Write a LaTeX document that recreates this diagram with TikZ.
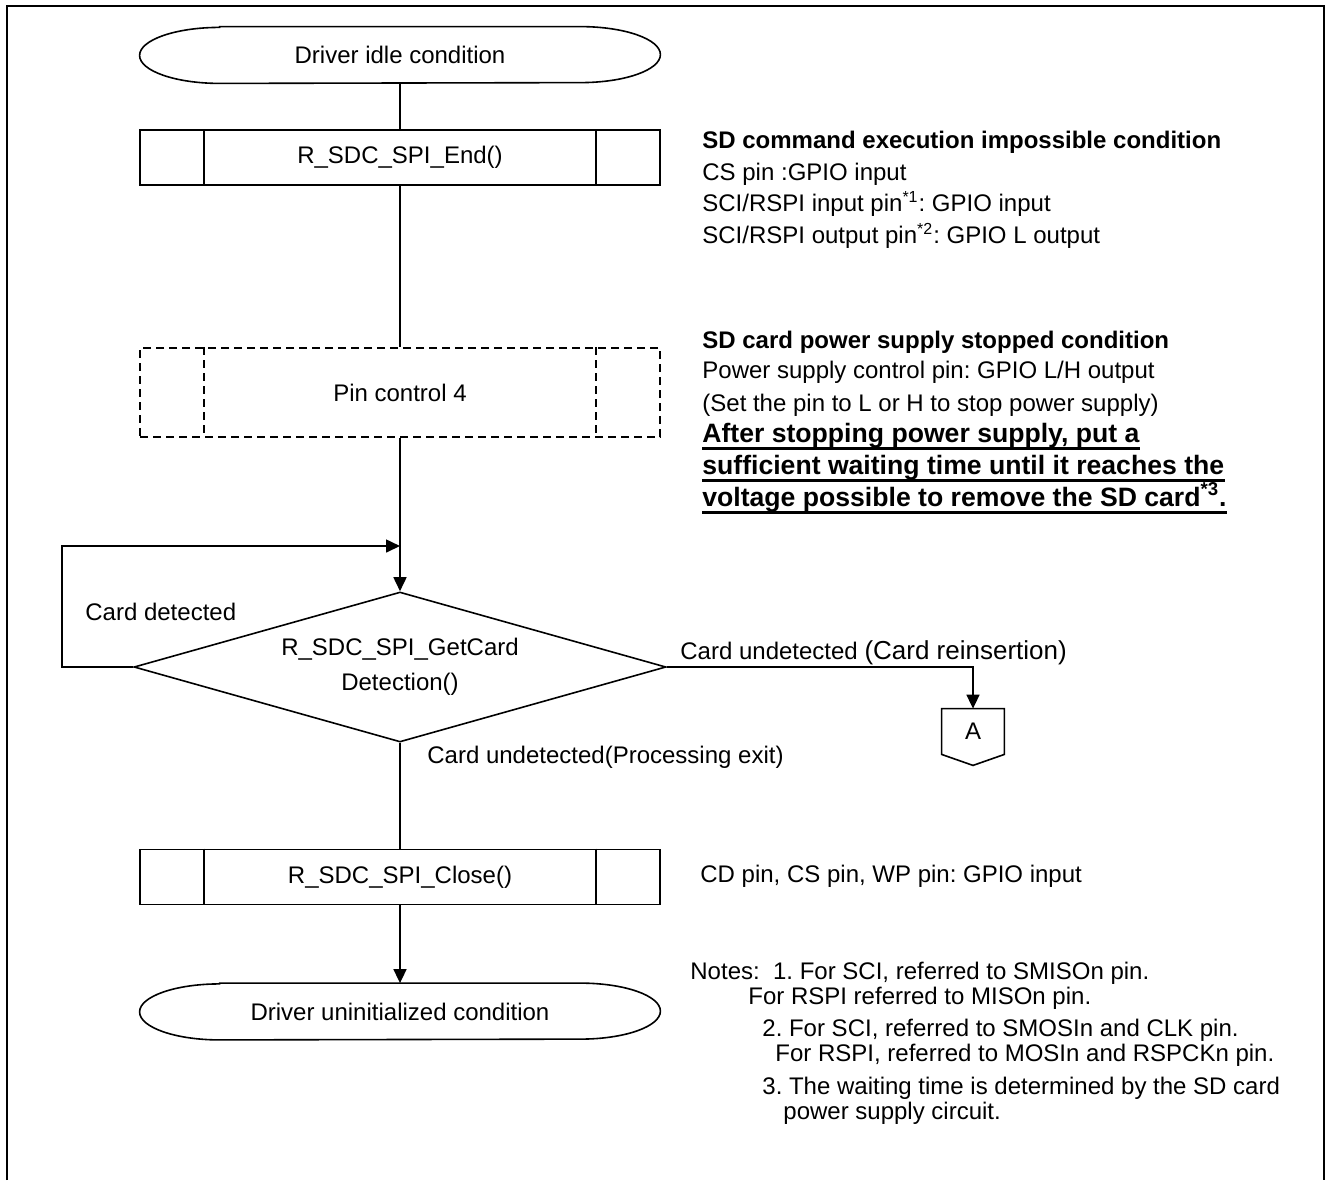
\documentclass[tikz,border=0pt]{standalone}
\usepackage{fontspec}
\setmainfont{Liberation Sans}
\usetikzlibrary{arrows.meta,shapes.geometric}
\frenchspacing

\tikzset{
  TextFnt/.style={font=\fontsize{12}{14.4}\selectfont},
  BoldFnt/.style={font=\fontsize{12}{14.4}\selectfont\bfseries},
  BigBoldFnt/.style={font=\fontsize{13.3}{16}\selectfont\bfseries},
  ProcBox/.style={draw,line width=.8pt,minimum width=260pt,minimum height=27.5pt,inner sep=0pt,TextFnt},
  TermBox/.style={minimum width=260pt,minimum height=28pt,inner sep=0pt,TextFnt},
  FlowLine/.style={line width=.8pt},
  FlowArrow/.style={line width=.8pt,-{Triangle[length=7pt,width=6.5pt]}},
  Note/.style={anchor=base west,inner sep=0pt,TextFnt},
  DashBox/.style={dash pattern=on 4pt off 2.5pt}
}

\begin{document}
\begin{tikzpicture}[x=.5pt,y=-.5pt]
\useasboundingbox (0,0) rectangle (1328,1180);
\draw[line width=1pt] (7,1180) -- (7,6) -- (1324,6) -- (1324,1180);

% flow boxes
\node[TermBox] (idle) at (400,55) {Driver idle condition};
\node[ProcBox] (endf) at (400,157.5) {R\_SDC\_SPI\_End()};
\node[ProcBox,DashBox,minimum height=44.5pt] (pin4) at (400,392.5) {Pin control 4};
\node[diamond,draw,line width=.8pt,minimum width=266pt,minimum height=75pt,inner sep=0pt,
      aspect=3.5,align=center,font=\fontsize{12}{17.5}\selectfont] (chk) at (400,667)
      {R\_SDC\_SPI\_GetCard\\Detection()};
\node[ProcBox] (close) at (400,877) {R\_SDC\_SPI\_Close()};
\node[TermBox] (uninit) at (400,1011.5) {Driver uninitialized condition};
\node[TextFnt,minimum width=31pt,minimum height=22.5pt,inner sep=0pt] (conA) at (973,731.5) {A};

% outlines
\foreach \t in {idle,uninit}
  \draw[line width=.8pt] ([xshift=40pt]\t.north west) -- ([xshift=-40pt]\t.north east)
    arc[start angle=90,end angle=-90,x radius=40pt,y radius=14pt]
    -- ([xshift=40pt]\t.south west)
    arc[start angle=270,end angle=90,x radius=40pt,y radius=14pt] -- cycle;
\foreach \b in {endf,close}
  \draw[line width=.8pt] ([xshift=32.5pt]\b.north west) -- ([xshift=32.5pt]\b.south west)
    ([xshift=-32.5pt]\b.north east) -- ([xshift=-32.5pt]\b.south east);
\draw[line width=.8pt,DashBox] ([xshift=32.5pt]pin4.north west) -- ([xshift=32.5pt]pin4.south west)
    ([xshift=-32.5pt]pin4.north east) -- ([xshift=-32.5pt]pin4.south east);
\draw[line width=.8pt] (conA.north west) -- (conA.north east) -- (conA.south east)
    -- ([yshift=-5.5pt]conA.south) -- (conA.south west) -- cycle;

% connectors
\coordinate (loopin) at (400,546);
\coordinate (loopcrn) at (62,546);
\draw[FlowLine] (idle) -- (endf);
\draw[FlowLine] (endf) -- (pin4);
\draw[FlowArrow] (pin4) -- (chk);
\draw[FlowArrow] (chk.west) -| (loopcrn) -- (loopin);
\draw[FlowArrow] (chk.east) -| (conA.north);
\draw[FlowLine] (chk) -- (close);
\draw[FlowArrow] (close) -- (uninit);

% branch labels
\node[Note] (lbldet) at (85,620) {Card detected};
\node[Note] (lblre) at (680,659) {Card undetected {\fontsize{13}{15}\selectfont(Card reinsertion)}};
\node[Note] (lblexit) at (427,763) {Card undetected(Processing exit)};

% pin states
\node[Note,BoldFnt] (st1) at (702,148) {SD command execution impossible condition};
\node[Note] (st1a) at (702,180) {CS pin :GPIO input};
\node[Note] (st1b) at (702,211) {SCI/RSPI input pin\textsuperscript{*1}: GPIO input};
\node[Note] (st1c) at (702,243) {SCI/RSPI output pin\textsuperscript{*2}: GPIO L output};
\node[Note,BoldFnt] (st2) at (702,348) {SD card power supply stopped condition};
\node[Note] (st2a) at (702,378) {Power supply control pin: GPIO L/H output};
\node[Note] (st2b) at (702,411) {(Set the pin to L or H to stop power supply)};
\node[Note,BigBoldFnt] (st2c) at (702,442) {After stopping power supply, put a};
\node[Note,BigBoldFnt] (st2d) at (702,474) {sufficient waiting time until it reaches the};
\node[Note,BigBoldFnt] (st2e) at (702,506) {voltage possible to remove the SD card\textsuperscript{*3}.};
\foreach \u in {st2c,st2d,st2e}
  \draw[line width=1.5pt] ([yshift=-3pt]\u.base west) -- ([yshift=-3pt]\u.base east);
\node[Note] (st3) at (700,882) {CD pin, CS pin, WP pin: GPIO input};

% notes
\node[Note] (nt1) at (690,979) {Notes:\ \ 1. For SCI, referred to SMISOn pin.};
\node[Note] (nt1b) at (748,1004) {For RSPI referred to MISOn pin.};
\node[Note] (nt2) at (762,1036) {2. For SCI, referred to SMOSIn and CLK pin.};
\node[Note] (nt2b) at (775,1061) {For RSPI, referred to MOSIn and RSPCKn pin.};
\node[Note] (nt3) at (762,1094) {3. The waiting time is determined by the SD card};
\node[Note] (nt3b) at (783,1119) {power supply circuit.};

\end{tikzpicture}
\end{document}
